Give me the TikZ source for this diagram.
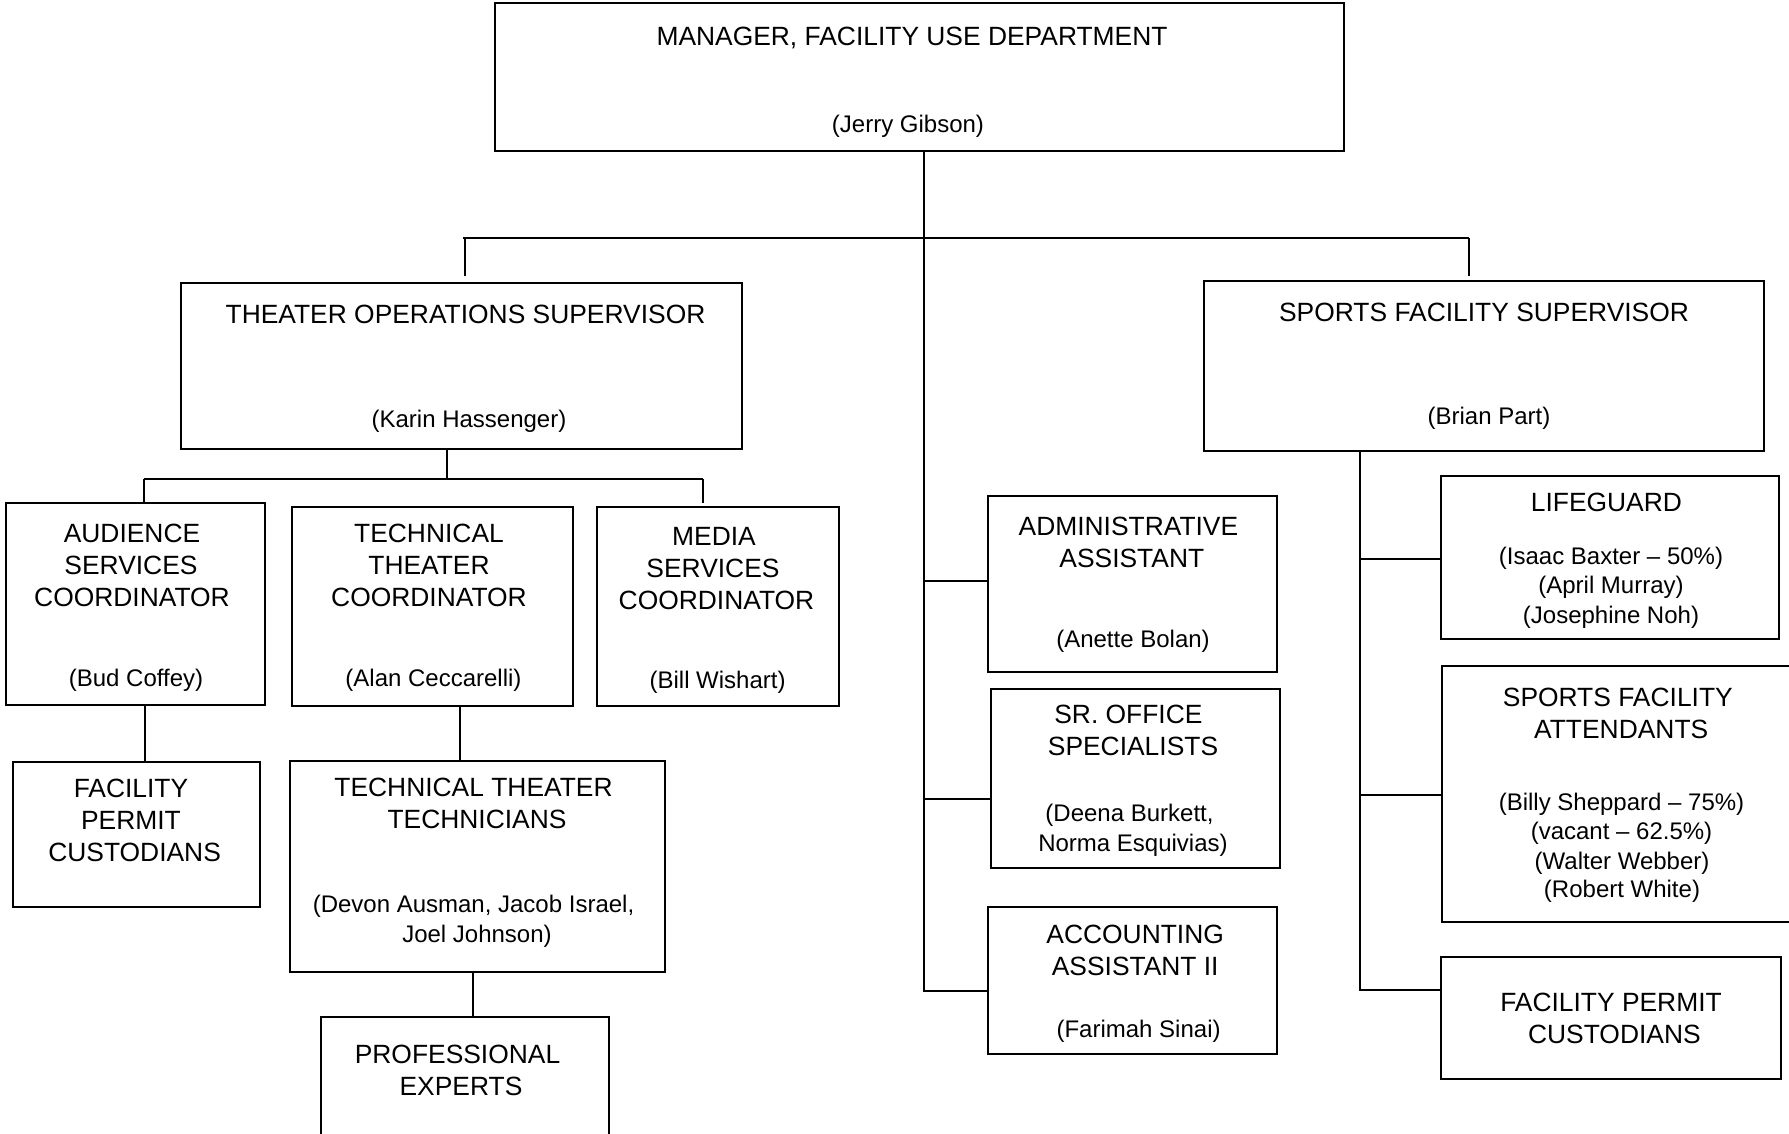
\documentclass[tikz,border=0pt]{standalone}
\usepackage{fontspec}
\setmainfont{Liberation Sans}
\begin{document}
\begin{tikzpicture}[x=1pt,y=-1pt,
  orgbox/.style={draw=black, line width=1.8pt, inner sep=0pt, outer sep=0pt, anchor=north west, fill=white},
  ttl/.style={anchor=base, inner sep=0pt, font=\fontsize{26.4}{32}\selectfont},
  nm/.style={anchor=base, inner sep=0pt, font=\fontsize{24}{29.7}\selectfont},
  conn/.style={draw=black, line width=1.6pt},
  hbar/.style={draw=black, line width=2.4pt}]
\newcommand\obox[5]{\node[orgbox, minimum width={(#4-#2)*1pt}, minimum height={(#5-#3)*1pt}] (#1) at (#2,#3) {};}
\fill[white] (0,0) rectangle (1789,1133);
\useasboundingbox (0,0) rectangle (1789,1133);

% ---------- boxes ----------
\obox{mgr}{495}{3}{1344}{151}
\obox{tos}{181}{283}{742}{449}
\obox{sfs}{1204}{281}{1764}{451}
\obox{aud}{6}{503}{265}{705}
\obox{ttc}{292}{507}{573}{706}
\obox{med}{597}{507}{839}{706}
\obox{fpcl}{13}{762}{260}{907}
\obox{ttt}{290}{761}{665}{972}
\obox{pro}{321}{1017}{609}{1160}
\obox{adm}{988}{496}{1277}{672}
\obox{sro}{991}{689}{1280}{868}
\obox{acc}{988}{907}{1277}{1054}
\obox{life}{1441}{476}{1779}{639}
\obox{sfa}{1442}{666}{1810}{922}
\obox{fpcr}{1441}{957}{1781}{1079}

% ---------- texts ----------
\node[ttl] (mgrT) at (912,45) {MANAGER, FACILITY USE DEPARTMENT};
\node[nm] (mgrN) at (908,132.5) {(Jerry Gibson)};

\node[ttl] (tosT) at (465.5,323) {THEATER OPERATIONS SUPERVISOR};
\node[nm] (tosN) at (469,427) {(Karin Hassenger)};

\node[ttl] (sfsT) at (1484,321) {SPORTS FACILITY SUPERVISOR};
\node[nm] (sfsN) at (1489,424.5) {(Brian Part)};

\node[ttl] (audT1) at (132,542) {AUDIENCE};
\node[ttl] (audT2) at (131,574) {SERVICES};
\node[ttl] (audT3) at (132,606) {COORDINATOR};
\node[nm] (audN) at (136,686) {(Bud Coffey)};

\node[ttl] (ttcT1) at (429,542) {TECHNICAL};
\node[ttl] (ttcT2) at (429,574) {THEATER};
\node[ttl] (ttcT3) at (429,606) {COORDINATOR};
\node[nm] (ttcN) at (433.5,686) {(Alan Ceccarelli)};

\node[ttl] (medT1) at (714,545.6) {MEDIA};
\node[ttl] (medT2) at (713,577.6) {SERVICES};
\node[ttl] (medT3) at (716.5,609.5) {COORDINATOR};
\node[nm] (medN) at (717.6,688) {(Bill Wishart)};

\node[ttl] (fpclT1) at (131,797.8) {FACILITY};
\node[ttl] (fpclT2) at (131,829.7) {PERMIT};
\node[ttl] (fpclT3) at (134.6,861.7) {CUSTODIANS};

\node[ttl] (tttT1) at (473.5,796.6) {TECHNICAL THEATER};
\node[ttl] (tttT2) at (477,828.6) {TECHNICIANS};
\node[nm] (tttN1) at (473.5,912.7) {(Devon Ausman, Jacob Israel,};
\node[nm] (tttN2) at (477,942.4) {Joel Johnson)};

\node[ttl] (proT1) at (457.5,1063.6) {PROFESSIONAL};
\node[ttl] (proT2) at (461,1095.5) {EXPERTS};

\node[ttl] (admT1) at (1128.4,535.4) {ADMINISTRATIVE};
\node[ttl] (admT2) at (1131.8,567.3) {ASSISTANT};
\node[nm] (admN) at (1133,647) {(Anette Bolan)};

\node[ttl] (sroT1) at (1128.4,723.6) {SR. OFFICE};
\node[ttl] (sroT2) at (1133,755.5) {SPECIALISTS};
\node[nm] (sroN1) at (1129.5,821.5) {(Deena Burkett,};
\node[nm] (sroN2) at (1133,851) {Norma Esquivias)};

\node[ttl] (accT1) at (1135.2,943.8) {ACCOUNTING};
\node[ttl] (accT2) at (1135.2,975.7) {ASSISTANT II};
\node[nm] (accN) at (1138.6,1037) {(Farimah Sinai)};

\node[ttl] (lifeT) at (1606.4,511.5) {LIFEGUARD};
\node[nm] (lifeN1) at (1611,564.8) {(Isaac Baxter – 50\%)};
\node[nm] (lifeN2) at (1611,593.3) {(April Murray)};
\node[nm] (lifeN3) at (1611,623) {(Josephine Noh)};

\node[ttl] (sfaT1) at (1617.8,706.5) {SPORTS FACILITY};
\node[ttl] (sfaT2) at (1621.2,738.4) {ATTENDANTS};
\node[nm] (sfaN1) at (1621.5,810) {(Billy Sheppard – 75\%)};
\node[nm] (sfaN2) at (1621.5,839.7) {(vacant – 62.5\%)};
\node[nm] (sfaN3) at (1622,869.4) {(Walter Webber)};
\node[nm] (sfaN4) at (1622,897.9) {(Robert White)};

\node[ttl] (fpcrT1) at (1611,1011.1) {FACILITY PERMIT};
\node[ttl] (fpcrT2) at (1614.4,1043) {CUSTODIANS};

% ---------- connectors ----------
% main trunk
\coordinate (t1) at (924,581);
\coordinate (t2) at (924,799);
\coordinate (t3) at (924,991);
\draw[conn] (mgr.south -| t1) -- (t3) -- (acc.west |- t3);
\draw[conn] (t1) -- (adm.west |- t1);
\draw[conn] (t2) -- (sro.west |- t2);

% top bar and drops to supervisors
\coordinate (bl) at (463,238);
\coordinate (br) at (1469,238);
\coordinate (dl) at (465,276);
\coordinate (dr) at (1469,276);
\draw[hbar] (bl) -- (br);
\draw[conn] (bl -| dl) -- (dl);
\draw[conn] (br) -- (dr);

% theater operations branch
\coordinate (tb) at (447,479);
\coordinate (tbl) at (144,479);
\coordinate (tbr) at (703,479);
\coordinate (tdr) at (703,503);
\draw[conn] (tos.south -| tb) -- (tb);
\draw[hbar, line width=2pt] (tbl) -- (tbr);
\draw[conn] (tbl) -- (aud.north -| tbl);
\draw[conn] (tbr) -- (tdr);

% lower theater chains
\coordinate (ax) at (145,0);
\coordinate (cx) at (460,0);
\coordinate (px) at (473,0);
\draw[conn] (aud.south -| ax) -- (fpcl.north -| ax);
\draw[conn] (ttc.south -| cx) -- (ttt.north -| cx);
\draw[conn] (ttt.south -| px) -- (pro.north -| px);

% sports branch
\coordinate (s1) at (1360,559);
\coordinate (s2) at (1360,795);
\coordinate (s3) at (1360,990);
\draw[conn] (sfs.south -| s1) -- (s3) -- (fpcr.west |- s3);
\draw[conn] (s1) -- (life.west |- s1);
\draw[conn] (s2) -- (sfa.west |- s2);
\end{tikzpicture}
\end{document}
